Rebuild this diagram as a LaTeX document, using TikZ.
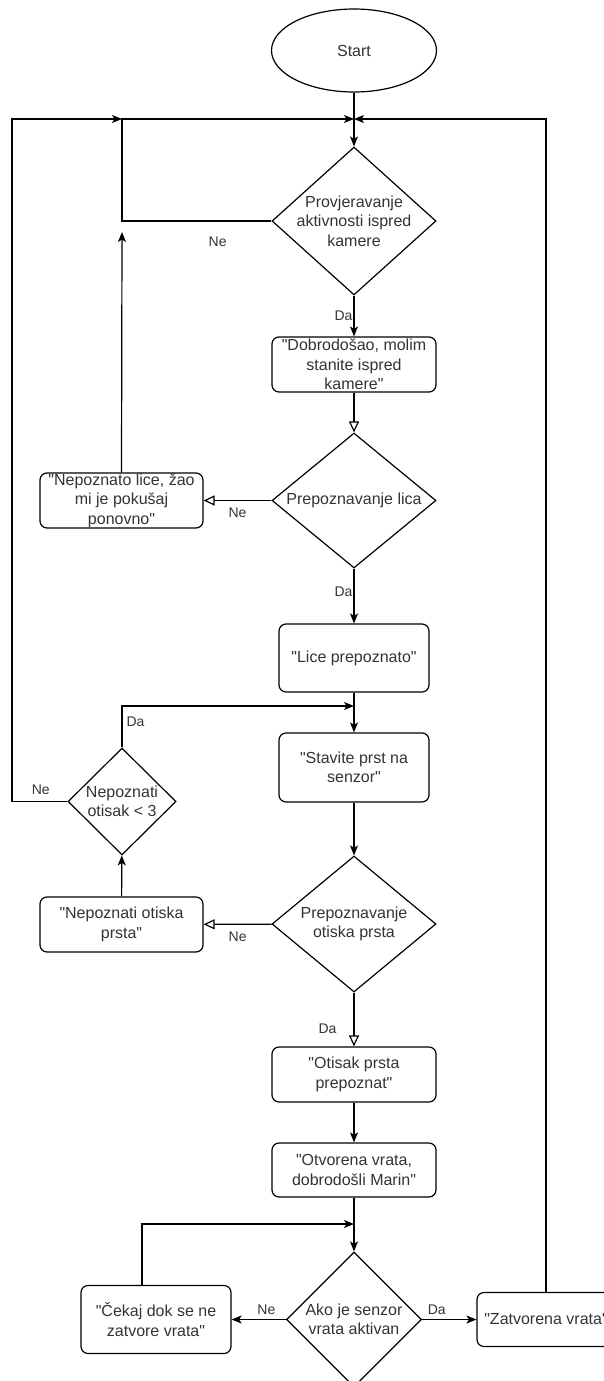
\documentclass[tikz,border=0pt]{standalone}
\usepackage{fontspec}
\setmainfont{Liberation Sans}[Ligatures=TeXOff]
\usetikzlibrary{shapes.geometric, arrows.meta}

\begin{document}
\begin{tikzpicture}[x=1pt, y=-1pt, line width=1.2pt,
  every node/.style={text=black!80, font=\fontsize{16}{19.5}\selectfont, align=center},
  term/.style={draw=black, ellipse, inner sep=0pt},
  box/.style={draw=black, rounded corners=7pt, inner sep=0pt},
  cond/.style={draw=black, diamond, inner sep=0pt},
  lbl/.style={font=\fontsize{14}{16}\selectfont, inner sep=1pt},
  arr/.style={-{Stealth[length=10pt, width=8pt, inset=2.5pt]}},
  oarr/.style={-{Triangle[open, length=11pt, width=10pt, fill=white]}}]
  \path[use as bounding box, clip] (0,0) rectangle (604,1381);

  \node[term, minimum width=165, minimum height=83] (start) at (354,50.5) {Start};
  \node[cond, minimum width=164, minimum height=148,
    label={center:{Provjeravanje\\aktivnosti ispred\\kamere}}] (d1) at (354,221) {};
  \node[box, minimum width=164, minimum height=55] (b1) at (354,364.5)
    {"Dobrodošao, molim\\stanite ispred\\kamere"};
  \node[cond, minimum width=164, minimum height=135,
    label={center:{Prepoznavanje lica}}] (d2) at (354,500.5) {};
  \node[box, minimum width=163, minimum height=55] (b2) at (121.5,500.5)
    {"Nepoznato lice, žao\\mi je pokušaj\\ponovno"};
  \node[box, minimum width=150, minimum height=68] (b3) at (354,658) {"Lice prepoznato"};
  \node[box, minimum width=150, minimum height=69] (b4) at (354,767.5) {"Stavite prst na\\senzor"};
  \node[cond, minimum width=108, minimum height=107,
    label={center:{Nepoznati\\otisak < 3}}] (d5) at (122,801.5) {};
  \node[cond, minimum width=164, minimum height=136,
    label={center:{Prepoznavanje\\otiska prsta}}] (d3) at (354,924) {};
  \node[box, minimum width=163, minimum height=55] (b5) at (121.5,924.5) {"Nepoznati otiska\\prsta"};
  \node[box, minimum width=164, minimum height=55] (b6) at (354,1074.5) {"Otisak prsta\\prepoznat"};
  \node[box, minimum width=164, minimum height=54] (b7) at (354,1170) {"Otvorena vrata,\\dobrodošli Marin"};
  \node[cond, minimum width=135, minimum height=135,
    label={center:{Ako je senzor\\vrata aktivan}}] (d4) at (354,1319.5) {};
  \node[box, minimum width=150, minimum height=68] (b8) at (156,1319.5) {"Čekaj dok se ne\\zatvore vrata"};
  \node[box, minimum width=138, minimum height=54] (b9) at (546,1319.5) {"Zatvorena vrata"};

  \coordinate (m1) at (354,119);
  \coordinate (c1) at (122,221);
  \coordinate (c2) at (122,119);
  \coordinate (g1) at (122,232);
  \coordinate (c3) at (12,801.5);
  \coordinate (c4) at (12,119);
  \coordinate (c5) at (546,119);
  \coordinate (m2) at (354,706);
  \coordinate (c6) at (122,706);
  \coordinate (m3) at (354,1224);
  \coordinate (c7) at (142,1224);

  \draw[arr] (start) -- (d1);
  \draw[arr] (d1.west) -- node[lbl, below=14pt, pos=0.36] {Ne} (c1) -- (c2) -- (m1);
  \draw[arr] (b2.north) -- (g1);
  \draw[arr] (d5.west) -- node[lbl, above=5pt, pos=0.48] {Ne} (c3) -- (c4) -- (c2);
  \draw[arr] (b9.north) -- (c5) -- (m1);
  \draw[arr] (d1) -- node[lbl, left, pos=0.5] {Da} (b1);
  \draw[oarr] (b1) -- (d2);
  \draw[oarr] (d2) -- node[lbl, below=6pt] {Ne} (b2);
  \draw[arr] (d2) -- node[lbl, left, pos=0.43] {Da} (b3);
  \draw[arr] (b3) -- (b4);
  \draw[arr] (d5.north) -- node[lbl, right=3pt, pos=0.62] {Da} (c6) -- (m2);
  \draw[arr] (b4) -- (d3);
  \draw[oarr] (d3) -- node[lbl, below=6pt] {Ne} (b5);
  \draw[arr] (b5) -- (d5);
  \draw[oarr] (d3) -- node[lbl, left=16pt, pos=0.67] {Da} (b6);
  \draw[arr] (b6) -- (b7);
  \draw[arr] (b7) -- (d4);
  \draw[arr] (b8.north -| c7) -- (c7) -- (m3);
  \draw[arr] (d4) -- node[lbl, above=3pt, pos=0.36] {Ne} (b8);
  \draw[arr] (d4) -- node[lbl, above=3pt, pos=0.27] {Da} (b9);
\end{tikzpicture}
\end{document}
